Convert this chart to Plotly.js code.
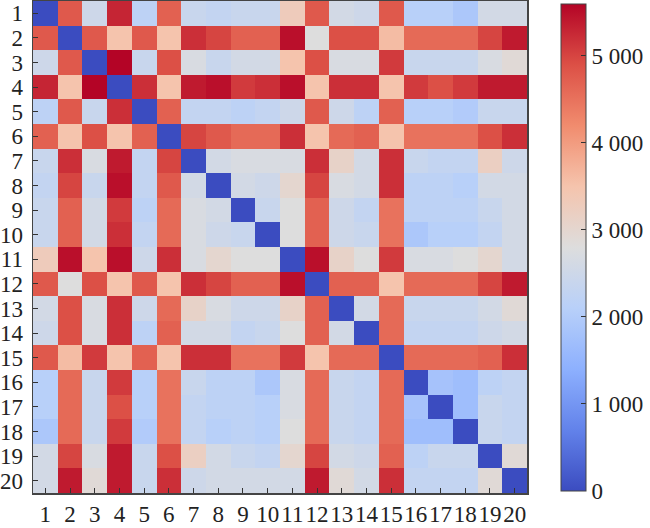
<!DOCTYPE html>
<html>
<head>
<meta charset="utf-8">
<script src="https://cdn.plot.ly/plotly-3.0.1.min.js"></script>
<style>
  html, body { margin: 0; padding: 0; background: #fff; }
  #chart { width: 650px; height: 528px; }
</style>
</head>
<body>
<div id="chart"></div>
<script>
// station index 1..20
const labels = Array.from({length: 20}, (_, i) => i + 1);

// pairwise distance matrix (rows top to bottom)
const distance = [
  [   0,4800,2500,5300,2200,4700,2400,2300,2400,2400,3300,4800,2600,2500,4800,2100,2100,1900,2600,2600],
  [4800,   0,4800,3500,4800,3500,5200,5000,4700,4700,5500,2800,4900,4900,3600,4600,4600,4600,5000,5400],
  [2500,4800,   0,5600,2400,4900,2700,2400,2600,2600,3500,4900,2700,2700,5100,2400,2400,2400,2700,2900],
  [5300,3500,5600,   0,5200,3500,5400,5500,5100,5200,5500,3500,5200,5200,3500,5100,4900,5100,5400,5400],
  [2200,4800,2400,5200,   0,4700,2300,2300,2200,2300,2500,4800,2500,2200,4700,2100,2100,2000,2400,2400],
  [4700,3500,4900,3500,4700,   0,5000,4800,4600,4600,5200,3500,4600,4700,3500,4500,4500,4500,4900,5200],
  [2400,5200,2700,5400,2300,5000,   0,2600,2700,2700,2700,5200,3100,2600,5200,2400,2300,2300,3200,2500],
  [2300,5000,2400,5500,2300,4800,2600,   0,2600,2500,3000,5000,2700,2600,5200,2200,2200,2100,2600,2600],
  [2400,4700,2600,5100,2200,4600,2700,2600,   0,2400,2800,4700,2500,2300,4500,2200,2200,2200,2400,2600],
  [2400,4700,2600,5200,2300,4600,2700,2500,2400,   0,2800,4700,2500,2400,4500,1900,2100,2100,2300,2600],
  [3300,5500,3500,5500,2500,5200,2700,3000,2800,2800,   0,5500,3100,2800,5100,2700,2700,2800,3000,2600],
  [4800,2800,4900,3500,4800,3500,5200,5000,4700,4700,5500,   0,4700,4700,3500,4600,4600,4600,5000,5400],
  [2600,4900,2700,5200,2500,4600,3100,2700,2500,2500,3100,4700,   0,2600,4600,2400,2400,2400,2600,2900],
  [2500,4900,2700,5200,2200,4700,2600,2600,2300,2400,2800,4700,2600,   0,4600,2300,2300,2300,2500,2600],
  [4800,3600,5100,3500,4700,3500,5200,5200,4500,4500,5100,3500,4600,4600,   0,4600,4600,4600,4700,5200],
  [2100,4600,2400,5100,2100,4500,2400,2200,2200,1900,2700,4600,2400,2300,4600,   0,1800,1700,2200,2300],
  [2100,4600,2400,4900,2100,4500,2300,2200,2200,2100,2700,4600,2400,2300,4600,1800,   0,1700,2400,2300],
  [1900,4600,2400,5100,2000,4500,2300,2100,2200,2100,2800,4600,2400,2300,4600,1700,1700,   0,2400,2300],
  [2600,5000,2700,5400,2400,4900,3200,2600,2400,2300,3000,5000,2600,2500,4700,2200,2400,2400,   0,2900],
  [2600,5400,2900,5400,2400,5200,2500,2600,2600,2600,2600,5400,2900,2600,5200,2300,2300,2300,2900,   0]
];

const cbTicks = [0, 1000, 2000, 3000, 4000, 5000];

// matplotlib coolwarm, reds nudged a little darker
const coolwarm = [
  [0.0,   'rgb(59,76,192)'],
  [0.125, 'rgb(98,130,234)'],
  [0.25,  'rgb(141,176,254)'],
  [0.375, 'rgb(184,208,249)'],
  [0.5,   'rgb(221,221,221)'],
  [0.625, 'rgb(245,196,173)'],
  [0.75,  'rgb(241,140,110)'],
  [0.875, 'rgb(220,80,70)'],
  [1.0,   'rgb(180,4,38)']
];

const font = {family: '"Liberation Serif", "DejaVu Serif", serif', size: 23, color: '#222'};

const trace = {
  type: 'heatmap',
  x: labels,
  y: labels,
  z: distance,
  zmin: 0,
  zmax: 5600,
  colorscale: coolwarm,
  colorbar: {
    x: 1.069,
    xanchor: 'left',
    xpad: 0,
    y: 0.5,
    yanchor: 'middle',
    len: 0.99,
    ypad: 0,
    thickness: 25,
    outlinewidth: 1,
    outlinecolor: '#444',
    tickvals: cbTicks,
    ticks: 'inside',
    ticklen: 5,
    tickcolor: '#333',
    tickformat: ',d',
    ticklabelstandoff: 2,
    tickfont: font
  }
};

const axisCommon = {
  tickmode: 'array',
  tickvals: labels,
  ticktext: labels.map(String),
  ticks: 'inside',
  ticklen: 5,
  tickcolor: '#333',
  showline: true,
  linecolor: '#444',
  linewidth: 1.5,
  mirror: true,
  showgrid: false,
  zeroline: false,
  tickangle: 0,
  tickfont: font
};

const layout = {
  width: 650,
  height: 528,
  margin: {l: 33, r: 123, t: 1, b: 35},
  paper_bgcolor: '#fff',
  plot_bgcolor: '#fff',
  separators: '. ',
  font: font,
  xaxis: Object.assign({}, axisCommon, {range: [0.5, 20.5], ticklabelstandoff: 0}),
  yaxis: Object.assign({}, axisCommon, {range: [20.5, 0.5], ticklabelstandoff: 4})
};

Plotly.newPlot('chart', [trace], layout, {displayModeBar: false, staticPlot: true});
</script>
</body>
</html>
